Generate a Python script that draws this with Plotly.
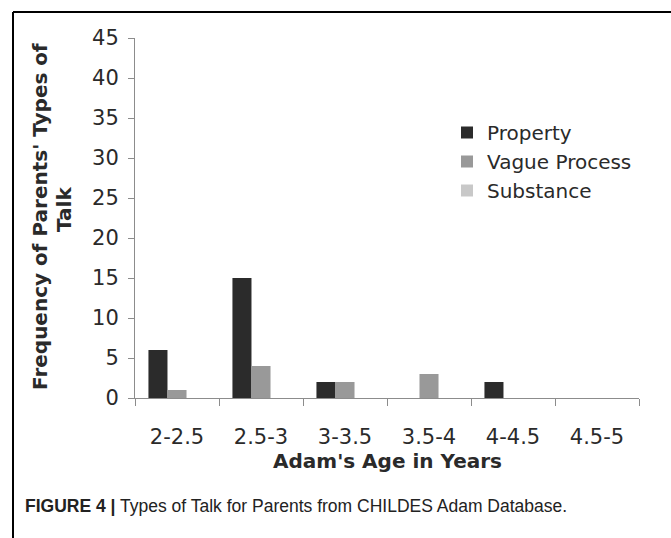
import plotly.graph_objects as go

# Age bins (years) and counts of each type of parental talk
age_bins = ["2-2.5", "2.5-3", "3-3.5", "3.5-4", "4-4.5", "4.5-5"]
property_counts = [6, 15, 2, 0, 2, 0]
vague_process_counts = [1, 4, 2, 3, 0, 0]
substance_counts = [0, 0, 0, 0, 0, 0]

series_names = ["Property", "Vague Process", "Substance"]
series_colors = ["#2b2b2b", "#999999", "#c8c8c8"]

y_ticks = [0, 5, 10, 15, 20, 25, 30, 35, 40, 45]

W, H = 671, 538
L, R, T, B = 135, 32, 38, 140
PW, PH = W - L - R, H - T - B


def px_x(px):
    return (px - L) / PW


def px_y(py):
    return (H - B - py) / PH


FONT = "DejaVu Sans, Verdana, sans-serif"
TXT = "#2a2a2a"
AXC = "#8c8c8c"

fig = go.Figure()
for name, vals, col in zip(series_names,
                           [property_counts, vague_process_counts, substance_counts],
                           series_colors):
    fig.add_trace(go.Bar(x=age_bins, y=vals, name=name,
                         marker=dict(color=col, line=dict(width=0))))

fig.update_layout(
    width=W, height=H,
    margin=dict(l=L, r=R, t=T, b=B),
    paper_bgcolor="white", plot_bgcolor="white",
    barmode="group", bargap=0.32, bargroupgap=0,
    font=dict(family=FONT, size=20, color=TXT),
    showlegend=True,
    legend=dict(x=px_x(447), y=px_y(113), xanchor="left", yanchor="top",
                font=dict(family=FONT, size=20, color=TXT),
                bgcolor="rgba(0,0,0,0)", itemwidth=30, tracegroupgap=0),
    xaxis=dict(type="category", showgrid=False, zeroline=False,
               showline=True, linecolor=AXC, linewidth=1,
               ticks="outside", tickson="boundaries", ticklen=7,
               tickcolor=AXC, tickwidth=1,
               tickfont=dict(family=FONT, size=21, color=TXT),
               ticklabelstandoff=20),
    yaxis=dict(range=[0, 45], tickvals=y_ticks, showgrid=False, zeroline=False,
               showline=True, linecolor=AXC, linewidth=1,
               ticks="outside", ticklen=6, tickcolor=AXC, tickwidth=1,
               tickfont=dict(family=FONT, size=21, color=TXT),
               ticklabelstandoff=5),
)

annotations = [
    dict(text="<b>Adam's Age in Years</b>", x=px_x(387), y=px_y(461),
         font=dict(family=FONT, size=20, color=TXT)),
    dict(text="<b>Frequency of Parents' Types of</b>", x=px_x(40), y=px_y(217),
         textangle=-90, font=dict(family=FONT, size=20, color=TXT)),
    dict(text="<b>Talk</b>", x=px_x(64), y=px_y(210),
         textangle=-90, font=dict(family=FONT, size=20, color=TXT)),
    dict(text="<b>FIGURE 4 |</b> Types of Talk for Parents from CHILDES Adam Database.",
         x=px_x(23), y=px_y(506), xanchor="left",
         font=dict(family="Liberation Sans Narrow, Arial Narrow, Liberation Sans, Arial",
                   size=17.5, color="#222222")),
]
for a in annotations:
    a.setdefault("xanchor", "center")
    fig.add_annotation(xref="paper", yref="paper", showarrow=False,
                       yanchor="middle", **a)

# Frame around the figure (top and left edges)
fig.add_shape(type="line", xref="paper", yref="paper",
              x0=px_x(13), x1=px_x(W + 2), y0=px_y(12), y1=px_y(12),
              line=dict(color="black", width=2))
fig.add_shape(type="line", xref="paper", yref="paper",
              x0=px_x(13), x1=px_x(13), y0=px_y(12), y1=px_y(H + 2),
              line=dict(color="black", width=2))

fig.write_html("out.html")
